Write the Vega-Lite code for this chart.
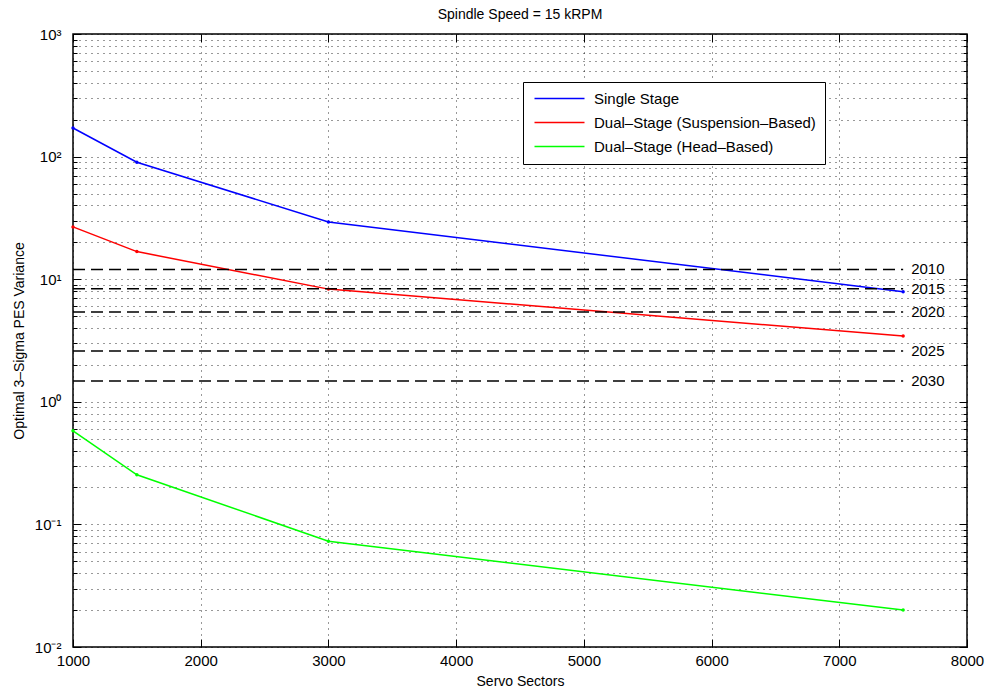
{
  "$schema": "https://vega.github.io/schema/vega-lite/v6.json",
  "autosize": {"type": "none"},
  "width": 894,
  "height": 613,
  "padding": {"left": 73, "top": 34, "right": 22, "bottom": 49},
  "background": "white",
  "title": {"text": "Spindle Speed = 15 kRPM", "fontSize": 14, "font": "Liberation Sans", "fontWeight": "normal", "offset": 5, "color": "#000"},
  "config": {
    "view": {"stroke": "#000", "strokeWidth": 1.5},
    "axis": {"domainColor": "#000", "domainWidth": 1.5, "tickColor": "#000", "labelColor": "#000", "titleColor": "#000", "labelFont": "Liberation Sans", "titleFont": "Liberation Sans", "labelFontSize": 15, "titleFontSize": 14, "titleFontWeight": "normal"}
  },
  "datasets": {
    "series": [
      {"series": "Single Stage", "sectors": 1000, "variance": 171},
      {"series": "Single Stage", "sectors": 1500, "variance": 90},
      {"series": "Single Stage", "sectors": 3000, "variance": 29.3},
      {"series": "Single Stage", "sectors": 7500, "variance": 7.9},
      {"series": "Dual–Stage (Suspension–Based)", "sectors": 1000, "variance": 26.7},
      {"series": "Dual–Stage (Suspension–Based)", "sectors": 1500, "variance": 16.8},
      {"series": "Dual–Stage (Suspension–Based)", "sectors": 3000, "variance": 8.3},
      {"series": "Dual–Stage (Suspension–Based)", "sectors": 7500, "variance": 3.44},
      {"series": "Dual–Stage (Head–Based)", "sectors": 1000, "variance": 0.58},
      {"series": "Dual–Stage (Head–Based)", "sectors": 1500, "variance": 0.254},
      {"series": "Dual–Stage (Head–Based)", "sectors": 3000, "variance": 0.073},
      {"series": "Dual–Stage (Head–Based)", "sectors": 7500, "variance": 0.020}
    ],
    "targets": [
      {"year": "2010", "start": 1000, "end": 7500, "variance": 12.0},
      {"year": "2015", "start": 1000, "end": 7500, "variance": 8.37},
      {"year": "2020", "start": 1000, "end": 7500, "variance": 5.4},
      {"year": "2025", "start": 1000, "end": 7500, "variance": 2.6},
      {"year": "2030", "start": 1000, "end": 7500, "variance": 1.48}
    ]
  },
  "resolve": {"axis": {"x": "independent", "y": "independent"}},
  "layer": [
    {
      "data": {"name": "series"},
      "mark": {"type": "line", "strokeWidth": 1.5, "point": {"filled": true, "size": 12}},
      "encoding": {
        "x": {"field": "sectors", "type": "quantitative",
              "scale": {"domain": [1000, 8000], "nice": false, "zero": false, "padding": 0},
              "axis": {"orient": "bottom", "title": "Servo Sectors", "values": [1000, 2000, 3000, 4000, 5000, 6000, 7000, 8000], "format": "d", "tickSize": -8, "labelPadding": 14, "labelFlush": false, "titlePadding": 6, "grid": true, "gridDash": [1, 5], "gridColor": "#000", "gridOpacity": 0.8, "domain": false}},
        "y": {"field": "variance", "type": "quantitative",
              "scale": {"type": "log", "domain": [0.01, 1000], "nice": false},
              "axis": {"orient": "left", "title": "Optimal 3–Sigma PES Variance", "titlePadding": 8,
                       "values": [0.01,0.02,0.03,0.04,0.05,0.06,0.07,0.08,0.09,0.1,0.2,0.3,0.4,0.5,0.6,0.7,0.8,0.9,1,2,3,4,5,6,7,8,9,10,20,30,40,50,60,70,80,90,100,200,300,400,500,600,700,800,900,1000],
                       "labelExpr": "datum.value == 1000 ? '10³' : datum.value == 100 ? '10²' : datum.value == 10 ? '10¹' : datum.value == 1 ? '10⁰' : datum.value == 0.1 ? '10⁻¹' : datum.value == 0.01 ? '10⁻²' : ''",
                       "tickSize": {"condition": {"test": "abs(log(datum.value)/LN10 - round(log(datum.value)/LN10)) < 0.000001", "value": -8}, "value": -4},
                       "labelPadding": 20, "labelFlush": false, "grid": true, "gridDash": [1, 5], "gridColor": "#000", "gridOpacity": 0.8, "domain": false}},
        "color": {"field": "series", "type": "nominal",
                  "scale": {"domain": ["Single Stage", "Dual–Stage (Suspension–Based)", "Dual–Stage (Head–Based)"], "range": ["#0000ff", "#ff0000", "#00ff00"]},
                  "legend": {"title": null, "orient": "none", "legendX": 450, "legendY": 48, "direction": "vertical", "symbolType": "M-1,0H9", "symbolSize": 100, "symbolStrokeWidth": 1.5, "symbolFillColor": "transparent", "labelFontSize": 15, "labelFont": "Liberation Sans", "labelColor": "#000", "labelLimit": 500, "strokeColor": "#000", "fillColor": "#fff", "padding": 9, "rowPadding": 8, "labelOffset": 47}}
      }
    },
    {
      "data": {"name": "targets"},
      "mark": {"type": "rule", "strokeDash": [12, 6], "strokeWidth": 1.5, "color": "#000"},
      "encoding": {
        "x": {"field": "start", "type": "quantitative",
              "scale": {"domain": [1000, 8000], "nice": false, "zero": false, "padding": 0},
              "axis": {"orient": "top", "title": null, "labels": false, "values": [1000, 2000, 3000, 4000, 5000, 6000, 7000, 8000], "tickSize": -8, "grid": false, "domain": false}},
        "x2": {"field": "end"},
        "y": {"field": "variance", "type": "quantitative",
              "axis": {"orient": "right", "title": null, "labels": false,
                       "values": [0.01,0.02,0.03,0.04,0.05,0.06,0.07,0.08,0.09,0.1,0.2,0.3,0.4,0.5,0.6,0.7,0.8,0.9,1,2,3,4,5,6,7,8,9,10,20,30,40,50,60,70,80,90,100,200,300,400,500,600,700,800,900,1000],
                       "tickSize": {"condition": {"test": "abs(log(datum.value)/LN10 - round(log(datum.value)/LN10)) < 0.000001", "value": -8}, "value": -4},
                       "grid": false, "domain": false}}
      }
    },
    {
      "data": {"name": "targets"},
      "mark": {"type": "text", "align": "left", "baseline": "middle", "dx": 8, "fontSize": 15, "font": "Liberation Sans", "color": "#000"},
      "encoding": {
        "x": {"field": "end", "type": "quantitative", "axis": null},
        "y": {"field": "variance", "type": "quantitative", "axis": null},
        "text": {"field": "year"}
      }
    }
  ]
}
